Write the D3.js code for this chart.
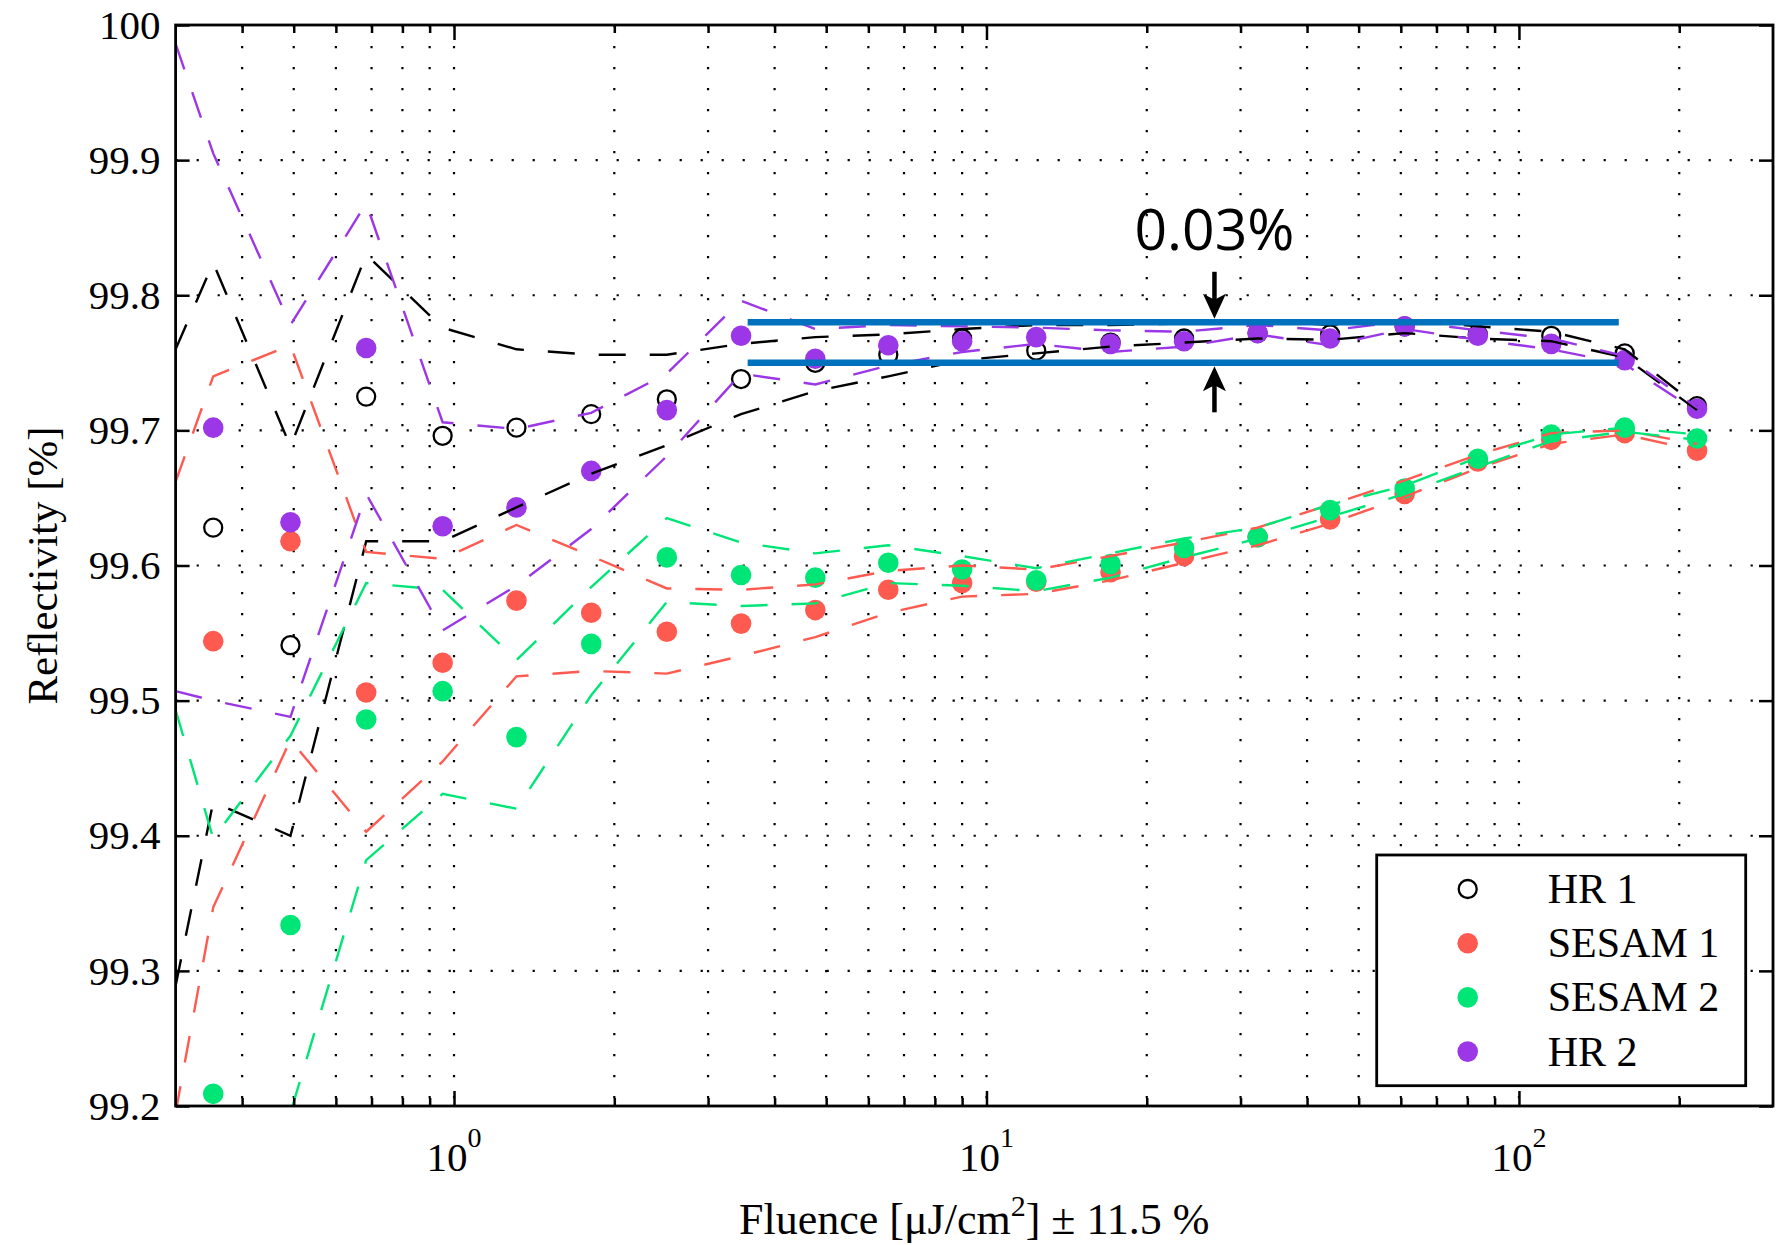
<!DOCTYPE html>
<html>
<head>
<meta charset="utf-8">
<script src="https://cdn.jsdelivr.net/npm/d3@7"></script>
<style>
  html, body { margin: 0; padding: 0; background: #fff; }
  svg { display: block; }
</style>
</head>
<body>
<svg id="chart" width="1788" height="1245"></svg>
<script>
// ---------------- DATA ----------------
const fluence = [0.353, 0.493, 0.684, 0.952, 1.31, 1.81, 2.51, 3.46, 4.77, 6.54, 9.0, 12.4, 17.1, 23.5, 32.3, 44.2, 61.0, 83.7, 115, 158, 216];

const hr1    = [99.628, 99.541, 99.725, 99.696, 99.702, 99.712, 99.723, 99.738, 99.750, 99.756, 99.768, 99.759, 99.765, 99.768, 99.772, 99.771, 99.777, 99.771, 99.770, 99.757, 99.718];
const sesam1 = [99.544, 99.618, 99.506, 99.528, 99.574, 99.565, 99.551, 99.557, 99.567, 99.582, 99.587, 99.588, 99.595, 99.607, 99.621, 99.634, 99.653, 99.677, 99.693, 99.698, 99.685];
const sesam2 = [99.209, 99.334, 99.486, 99.507, 99.473, 99.542, 99.606, 99.593, 99.591, 99.602, 99.597, 99.589, 99.601, 99.613, 99.621, 99.641, 99.657, 99.679, 99.697, 99.702, 99.694];
const hr2    = [99.702, 99.632, 99.761, 99.629, 99.643, 99.670, 99.715, 99.770, 99.753, 99.763, 99.766, 99.769, 99.764, 99.766, 99.772, 99.768, 99.777, 99.770, 99.764, 99.752, 99.716];

// envelope (dashed) lines: first value is at the left axis limit
const envFluence = [0.3, 0.353, 0.493, 0.684, 0.952, 1.31, 1.81, 2.51, 3.46, 4.77, 6.54, 9.0, 12.4, 17.1, 23.5, 32.3, 44.2, 61.0, 83.7, 115, 158, 216];
const hr1Upper    = [99.760, 99.824, 99.688, 99.830, 99.776, 99.760, 99.756, 99.756, 99.764, 99.769, 99.771, 99.775, 99.778, 99.778, 99.779, 99.781, 99.778, 99.782, 99.777, 99.773, 99.760, 99.718];
const hr1Lower    = [99.289, 99.425, 99.400, 99.618, 99.618, 99.643, 99.668, 99.689, 99.712, 99.729, 99.740, 99.752, 99.757, 99.762, 99.765, 99.768, 99.767, 99.772, 99.768, 99.766, 99.754, 99.715];
const sesam1Upper = [99.662, 99.740, 99.763, 99.610, 99.605, 99.630, 99.607, 99.583, 99.582, 99.586, 99.596, 99.600, 99.597, 99.607, 99.617, 99.628, 99.645, 99.663, 99.682, 99.698, 99.700, 99.690];
const sesam1Lower = [99.195, 99.347, 99.471, 99.403, 99.455, 99.518, 99.522, 99.520, 99.533, 99.547, 99.565, 99.577, 99.579, 99.589, 99.602, 99.615, 99.631, 99.651, 99.672, 99.690, 99.697, 99.685];
const sesam2Upper = [99.493, 99.398, 99.474, 99.587, 99.582, 99.530, 99.584, 99.635, 99.617, 99.609, 99.615, 99.607, 99.598, 99.609, 99.620, 99.628, 99.645, 99.659, 99.680, 99.697, 99.702, 99.697];
const sesam2Lower = [98.950, 99.000, 99.195, 99.382, 99.431, 99.420, 99.504, 99.573, 99.570, 99.572, 99.587, 99.585, 99.581, 99.591, 99.606, 99.620, 99.636, 99.653, 99.673, 99.692, 99.699, 99.693];
const hr2Upper    = [99.986, 99.905, 99.778, 99.868, 99.706, 99.701, 99.713, 99.742, 99.796, 99.775, 99.778, 99.777, 99.776, 99.774, 99.773, 99.778, 99.774, 99.781, 99.774, 99.768, 99.755, 99.717];
const hr2Lower    = [99.507, 99.500, 99.488, 99.653, 99.552, 99.585, 99.627, 99.681, 99.742, 99.734, 99.748, 99.758, 99.764, 99.758, 99.762, 99.771, 99.763, 99.775, 99.767, 99.760, 99.749, 99.714];

const seriesNames  = ["HR 1", "SESAM 1", "SESAM 2", "HR 2"];
const seriesColors = ["#000000", "#FF5A4F", "#00E676", "#9B37E6"];

const yTickValues = [99.2, 99.3, 99.4, 99.5, 99.6, 99.7, 99.8, 99.9, 100];
const yTickLabels = ["99.2", "99.3", "99.4", "99.5", "99.6", "99.7", "99.8", "99.9", "100"];
const xMajorTicks = [1, 10, 100];
const xMajorExponents = ["0", "1", "2"];
const xMinorTicks = [0.4, 0.5, 0.6, 0.7, 0.8, 0.9, 2, 3, 4, 5, 6, 7, 8, 9, 20, 30, 40, 50, 60, 70, 80, 90, 200];

const bandLevels = [99.78, 99.75];
const bandFluence = [3.56, 154];
const bandLabel = "0.03%";
const arrowFluence = 26.8;

const xLabel = ["Fluence [μJ/cm", "2", "] ± 11.5 %"];
const yLabel = "Reflectivity [%]";

// ---------------- LAYOUT ----------------
const W = 1788, H = 1245;
const plot = { left: 175.6, right: 1773, top: 25, bottom: 1106 };
const serif = "'Liberation Serif', 'Times New Roman', serif";

const svg = d3.select("#chart");
const x = d3.scaleLog().domain([0.3, 300]).range([plot.left, plot.right]);
const y = d3.scaleLinear().domain([99.2, 100]).range([plot.bottom, plot.top]);

svg.append("defs").append("clipPath").attr("id", "clip")
  .append("rect").attr("x", plot.left).attr("y", plot.top)
  .attr("width", plot.right - plot.left).attr("height", plot.bottom - plot.top);

// grid (dotted)
const grid = svg.append("g").attr("stroke", "#000").attr("stroke-width", 2.2)
  .attr("stroke-dasharray", "2.2,18.8");
grid.selectAll("line.v").data(xMinorTicks.concat(xMajorTicks)).join("line")
  .attr("class", "v")
  .attr("x1", d => x(d)).attr("x2", d => x(d))
  .attr("y1", plot.top).attr("y2", plot.bottom);
grid.selectAll("line.h").data(yTickValues.slice(1, -1)).join("line")
  .attr("class", "h")
  .attr("x1", plot.left).attr("x2", plot.right)
  .attr("y1", d => y(d)).attr("y2", d => y(d));

const clipped = svg.append("g").attr("clip-path", "url(#clip)");

// markers
const allSeries = [hr1, sesam1, sesam2, hr2];
allSeries.forEach((vals, i) => {
  const g = clipped.append("g");
  g.selectAll("circle").data(vals.map((v, k) => [fluence[k], v])).join("circle")
    .attr("cx", d => x(d[0])).attr("cy", d => y(d[1]))
    .attr("r", i === 0 ? 9 : 10.3)
    .attr("fill", i === 0 ? "none" : seriesColors[i])
    .attr("stroke", i === 0 ? "#000" : "none")
    .attr("stroke-width", 2.3);
});

// envelope dashed lines
const line = d3.line().x(d => x(d[0])).y(d => y(d[1]));
const envelopes = [[hr1Upper, hr1Lower], [sesam1Upper, sesam1Lower], [sesam2Upper, sesam2Lower], [hr2Upper, hr2Lower]];
envelopes.forEach((pair, i) => {
  pair.forEach(vals => {
    clipped.append("path")
      .datum(vals.map((v, k) => [envFluence[k], v]))
      .attr("d", line)
      .attr("fill", "none")
      .attr("stroke", seriesColors[i])
      .attr("stroke-width", 2.4)
      .attr("stroke-dasharray", "27,24");
  });
});

// 0.03% band lines
svg.selectAll("line.band").data(bandLevels).join("line")
  .attr("class", "band")
  .attr("x1", x(bandFluence[0])).attr("x2", x(bandFluence[1]))
  .attr("y1", d => y(d)).attr("y2", d => y(d))
  .attr("stroke", "#0072BD").attr("stroke-width", 6.5);

// arrows
const ax = x(arrowFluence);
const topTip = y(bandLevels[0]) - 3.5;
const botTip = y(bandLevels[1]) + 3.5;
function arrow(tipY, dir, len) {
  svg.append("line")
    .attr("x1", ax).attr("x2", ax)
    .attr("y1", tipY - dir * len).attr("y2", tipY - dir * 12)
    .attr("stroke", "#000").attr("stroke-width", 4.5);
  const p = d3.path();
  p.moveTo(ax, tipY);
  p.lineTo(ax - 11.5, tipY - dir * 25);
  p.lineTo(ax, tipY - dir * 19);
  p.lineTo(ax + 11.5, tipY - dir * 25);
  p.closePath();
  svg.append("path").attr("d", p.toString()).attr("fill", "#000");
}
arrow(topTip, 1, 47);
arrow(botTip, -1, 46);

svg.append("text")
  .attr("x", ax).attr("y", y(bandLevels[0]) - 72)
  .attr("text-anchor", "middle")
  .attr("font-family", "'Open Sans', 'Noto Sans', sans-serif")
  .attr("font-size", 57)
  .attr("fill", "#000")
  .text(bandLabel);

// axes (ticks inward, box)
const axes = svg.append("g");
axes.append("g").attr("transform", `translate(0,${plot.bottom})`)
  .call(d3.axisBottom(x).tickValues(xMajorTicks).tickSize(-15).tickFormat(""));
axes.append("g").attr("transform", `translate(0,${plot.bottom})`)
  .call(d3.axisBottom(x).tickValues(xMinorTicks).tickSize(-8).tickFormat(""));
axes.append("g").attr("transform", `translate(0,${plot.top})`)
  .call(d3.axisTop(x).tickValues(xMajorTicks).tickSize(-15).tickFormat(""));
axes.append("g").attr("transform", `translate(0,${plot.top})`)
  .call(d3.axisTop(x).tickValues(xMinorTicks).tickSize(-8).tickFormat(""));
const yAxisG = axes.append("g").attr("transform", `translate(${plot.left},0)`)
  .call(d3.axisLeft(y).tickValues(yTickValues).tickSize(-14).tickPadding(15)
    .tickFormat((d, i) => yTickLabels[i]));
axes.append("g").attr("transform", `translate(${plot.right},0)`)
  .call(d3.axisRight(y).tickValues(yTickValues).tickSize(-14).tickFormat(""));
axes.selectAll(".domain").remove();
axes.selectAll(".tick line").attr("stroke", "#000").attr("stroke-width", 2.5);
yAxisG.selectAll(".tick text")
  .attr("font-family", serif).attr("font-size", 41).attr("fill", "#000");

svg.append("rect")
  .attr("x", plot.left).attr("y", plot.top)
  .attr("width", plot.right - plot.left).attr("height", plot.bottom - plot.top)
  .attr("fill", "none").attr("stroke", "#000").attr("stroke-width", 2.8);

// x tick labels with superscript exponents
const xl = svg.append("g").attr("font-family", serif).attr("fill", "#000");
xMajorTicks.forEach((t, i) => {
  const tx = xl.append("text").attr("x", x(t)).attr("y", 1171)
    .attr("text-anchor", "middle").attr("font-size", 41);
  tx.append("tspan").text("10");
  tx.append("tspan").attr("dy", -24).attr("font-size", 28).text(xMajorExponents[i]);
});

// axis labels
const xlab = svg.append("text")
  .attr("x", (plot.left + plot.right) / 2).attr("y", 1234)
  .attr("text-anchor", "middle").attr("font-family", serif).attr("font-size", 44).attr("fill", "#000");
xlab.append("tspan").text(xLabel[0]);
xlab.append("tspan").attr("dy", -18).attr("font-size", 30).text(xLabel[1]);
xlab.append("tspan").attr("dy", 18).text(xLabel[2]);

svg.append("text")
  .attr("transform", `translate(57,${(plot.top + plot.bottom) / 2}) rotate(-90)`)
  .attr("text-anchor", "middle").attr("font-family", serif).attr("font-size", 43).attr("fill", "#000")
  .text(yLabel);

// legend
const leg = { x: 1376.7, y: 855, w: 369, h: 230.7 };
const lg = svg.append("g");
lg.append("rect").attr("x", leg.x).attr("y", leg.y).attr("width", leg.w).attr("height", leg.h)
  .attr("fill", "#fff").attr("stroke", "#000").attr("stroke-width", 2.8);
seriesNames.forEach((name, i) => {
  const cy = leg.y + 34 + i * 54.2;
  lg.append("circle").attr("cx", leg.x + 91).attr("cy", cy)
    .attr("r", i === 0 ? 9 : 10.3)
    .attr("fill", i === 0 ? "none" : seriesColors[i])
    .attr("stroke", i === 0 ? "#000" : "none").attr("stroke-width", 2.3);
  lg.append("text").attr("x", leg.x + 171).attr("y", cy + 14)
    .attr("font-family", serif).attr("font-size", 42).attr("fill", "#000").text(name);
});
</script>
</body>
</html>
